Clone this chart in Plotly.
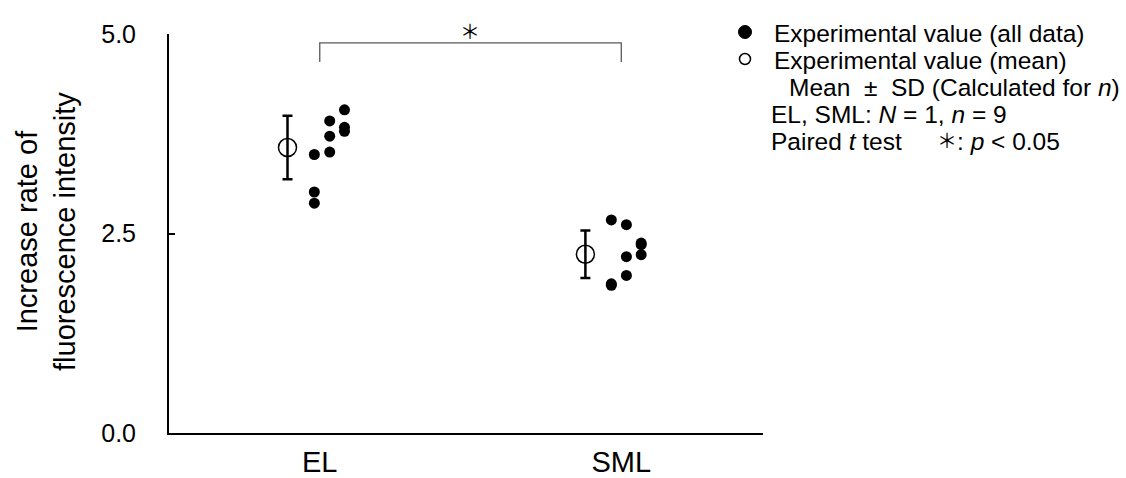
import numpy as np
import plotly.graph_objects as go

# ---- data ----
categories = ["EL", "SML"]
el_values = [3.49, 3.02, 2.88, 3.52, 3.72, 3.91, 4.05, 3.83, 3.78]
sml_values = [2.67, 1.87, 1.85, 2.61, 2.21, 1.975, 2.38, 2.36, 2.235]
ytick_vals = [0.0, 2.5, 5.0]

# ---- layout constants (dot columns beside each category, in category units) ----
col_slot = [0, 0, 0, 1, 1, 1, 2, 2, 2]
col_offsets = {"EL": [-0.018, 0.033, 0.082], "SML": [-0.033, 0.017, 0.066]}
mean_offsets = {"EL": -0.107, "SML": -0.119}

W, H = 1126, 478
L, R, T, B = 169, 363, 34, 45
FONT = "Liberation Sans, Arial, sans-serif"
CJK = "Noto Sans CJK JP, DejaVu Sans, sans-serif"

groups = {"EL": el_values, "SML": sml_values}

fig = go.Figure()

# individual measurements
dot_x, dot_y = [], []
for i, cat in enumerate(categories):
    vals = groups[cat]
    for v, s in zip(vals, col_slot):
        dot_x.append(i + col_offsets[cat][s])
        dot_y.append(v)
fig.add_trace(go.Scatter(
    x=dot_x, y=dot_y, mode="markers",
    marker=dict(symbol="circle", size=11, color="black"),
    showlegend=False, hoverinfo="y"))

# mean ± SD (sample SD over n)
means = [float(np.mean(groups[c])) for c in categories]
sds = [float(np.std(groups[c], ddof=1)) for c in categories]
fig.add_trace(go.Scatter(
    x=[i + mean_offsets[c] for i, c in enumerate(categories)], y=means,
    mode="markers",
    marker=dict(symbol="circle-open", size=18, color="black", line=dict(width=1.5)),
    error_y=dict(type="data", array=sds, visible=True, color="black",
                 thickness=2.5, width=5),
    showlegend=False, hoverinfo="y"))

PW = W - L - R
PH = H - T - B


def px(xp):
    return (xp - L) / PW


def py(yp):
    return (H - B - yp) / PH


# significance bracket
fig.add_shape(type="path", xref="x", yref="y",
              path="M 0,4.65 L 0,4.89 L 1,4.89 L 1,4.65",
              line=dict(color="#595959", width=1.3))
fig.add_annotation(x=px(470), y=py(31), xref="paper", yref="paper", text="＊",
                   showarrow=False, xanchor="center", yanchor="middle",
                   font=dict(family=CJK, size=20, color="black"))

# y-axis title
fig.add_annotation(x=px(46), y=py(232), xref="paper", yref="paper",
                   text="Increase rate of<br>fluorescence intensity",
                   textangle=-90, showarrow=False, xanchor="center", yanchor="middle",
                   font=dict(family=FONT, size=29, color="black"))

# key: symbols
fig.add_shape(type="circle", xref="paper", yref="paper",
              xsizemode="pixel", ysizemode="pixel",
              xanchor=px(745), yanchor=py(32),
              x0=-6.5, x1=6.5, y0=-6.5, y1=6.5,
              fillcolor="black", line=dict(color="black", width=1))
fig.add_shape(type="circle", xref="paper", yref="paper",
              xsizemode="pixel", ysizemode="pixel",
              xanchor=px(745), yanchor=py(59),
              x0=-5.5, x1=5.5, y0=-5.5, y1=5.5,
              fillcolor="white", line=dict(color="black", width=1.5))

key_lines = [
    (772, 33, "Experimental value (all data)"),
    (772, 60, "Experimental value (mean)"),
    (787, 87, "Mean\u00a0\u00a0±\u00a0\u00a0SD (Calculated for <i>n</i>)"),
    (769, 114, "EL, SML: <i>N</i> = 1, <i>n</i> = 9"),
    (769, 141, "Paired <i>t</i> test"),
]
for xp, yp, txt in key_lines:
    fig.add_annotation(x=px(xp), y=py(yp), xref="paper", yref="paper", text=txt,
                       showarrow=False, xanchor="left", yanchor="middle",
                       font=dict(family=FONT, size=24.5, color="black"))
fig.add_annotation(x=px(935), y=py(139), xref="paper", yref="paper", text="＊",
                   showarrow=False, xanchor="left", yanchor="middle",
                   font=dict(family=CJK, size=20, color="black"))
fig.add_annotation(x=px(955), y=py(141), xref="paper", yref="paper",
                   text=": <i>p</i> &lt; 0.05",
                   showarrow=False, xanchor="left", yanchor="middle",
                   font=dict(family=FONT, size=24.5, color="black"))

fig.update_xaxes(range=[-0.5, 1.47], tickvals=[0, 1], ticktext=categories,
                 showline=True, linewidth=2, linecolor="black",
                 ticks="", showgrid=False, zeroline=False, automargin=False,
                 tickfont=dict(family=FONT, size=29, color="black"),
                 ticklabelstandoff=2)
fig.update_yaxes(range=[0, 5], tickvals=ytick_vals, tickformat=".1f",
                 showline=True, linewidth=2, linecolor="black",
                 ticks="inside", ticklen=6, tickwidth=2, tickcolor="black",
                 showgrid=False, zeroline=False, automargin=False,
                 tickfont=dict(family=FONT, size=25, color="black"),
                 ticklabelstandoff=26)

fig.update_layout(width=W, height=H,
                  margin=dict(l=L, r=R, t=T, b=B, pad=0),
                  plot_bgcolor="white", paper_bgcolor="white",
                  font=dict(family=FONT, color="black"))

fig.write_html("out.html")
